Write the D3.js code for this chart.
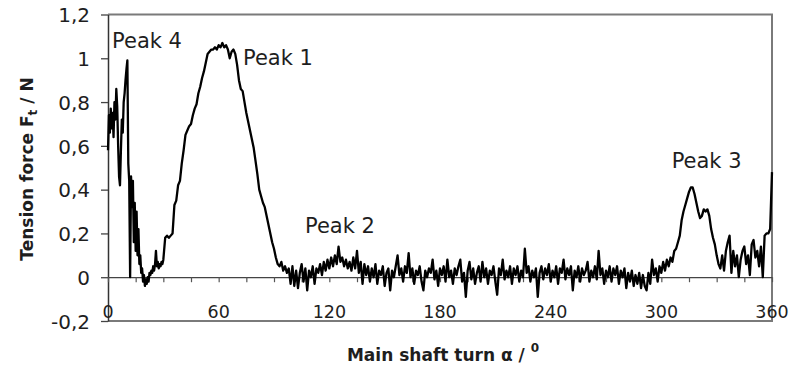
<!DOCTYPE html>
<html><head><meta charset="utf-8">
<script src="https://cdn.jsdelivr.net/npm/d3@7/dist/d3.min.js"></script>
<style>body{margin:0;background:#fff}svg{display:block}</style>
</head><body>
<svg id="chart" width="791" height="369"></svg>
<script>
// Main shaft turn (degrees)
const angles = [
0,0.5,1,1.5,2,2.5,3,3.5,4,4.5,5,5.5,6,6.5,7,7.5,8,8.5,9,9.5,
10,10.5,11,11.5,12,12.5,13,13.5,14,14.5,15,15.5,16,16.5,17,17.5,18,18.5,19,19.5,
20,20.5,21,21.5,22,22.5,23,23.5,24,24.5,25,25.5,26,26.5,27,27.5,28,28.5,29,29.5,30,
31,32,33,34,35,36,37,38,39,40,41,42,43,44,45,46,47,48,49,50,
51,52,53,54,55,56,57,58,59,60,61,62,63,64,65,66,67,68,69,70,
71,72,73,74,75,76,77,78,79,80,81,82,83,84,85,86,87,88,89,90,
91,92,93,94,95,96,97,98,99,100,101,102,103,104,105,106,107,108,109,110,
111,112,113,114,115,116,117,118,119,120,121,122,123,124,125,126,127,128,129,130,
131,132,133,134,135,136,137,138,139,140,141,142,143,144,145,146,147,148,149,150,
151,152,153,154,155,156,157,158,159,160,161,162,163,164,165,166,167,168,169,170,
171,172,173,174,175,176,177,178,179,180,181,182,183,184,185,186,187,188,189,190,
191,192,193,194,195,196,197,198,199,200,201,202,203,204,205,206,207,208,209,210,
211,212,213,214,215,216,217,218,219,220,221,222,223,224,225,226,227,228,229,230,
231,232,233,234,235,236,237,238,239,240,241,242,243,244,245,246,247,248,249,250,
251,252,253,254,255,256,257,258,259,260,261,262,263,264,265,266,267,268,269,270,
271,272,273,274,275,276,277,278,279,280,281,282,283,284,285,286,287,288,289,290,
291,292,293,294,295,296,297,298,299,300,301,302,303,304,305,306,307,308,309,310,
311,312,313,314,315,316,317,318,319,320,321,322,323,324,325,326,327,328,329,330,
331,332,333,334,335,336,337,338,339,340,341,342,343,344,345,346,347,348,349,350,
351,352,353,354,355,356,357,358,359,360
];
// Tension force Ft (N)
const tension = [
0.58,0.74,0.66,0.77,0.68,0.75,0.64,0.80,0.72,0.86,
0.78,0.60,0.46,0.42,0.58,0.72,0.66,0.80,0.84,0.90,
0.95,0.99,0.52,0.44,0.00,0.46,0.32,0.44,0.16,0.34,
0.12,0.30,0.10,0.22,0.06,0.10,0.02,0.04,-0.02,0.01,
-0.04,-0.01,-0.03,0.00,-0.02,0.02,0.01,0.03,0.02,0.05,
0.03,0.06,0.12,0.05,0.07,0.04,0.06,0.05,0.07,0.06,
0.08,
0.18,0.19,0.18,0.19,0.20,0.33,0.35,0.42,0.44,0.52,
0.58,0.65,0.67,0.69,0.70,0.74,0.77,0.79,0.84,0.87,
0.91,0.94,0.98,1.02,1.03,1.04,1.04,1.05,1.04,1.06,
1.05,1.07,1.05,1.06,1.04,1.00,1.03,1.04,1.02,0.97,
0.90,0.86,0.85,0.80,0.75,0.71,0.67,0.63,0.59,0.53,
0.47,0.40,0.37,0.34,0.32,0.28,0.24,0.20,0.16,0.13,
0.09,0.06,0.05,0.07,0.03,0.05,0.02,0.04,-0.03,0.05,
-0.04,0.03,-0.05,0.02,0.06,-0.02,0.04,-0.06,0.03,0.00,
0.05,-0.03,0.04,0.02,0.06,0.01,0.07,0.03,0.08,0.04,
0.09,0.05,0.10,0.06,0.14,0.07,0.09,0.05,0.08,0.04,
0.07,0.03,0.09,0.04,0.12,0.02,0.07,-0.03,0.06,0.01,
0.05,-0.02,0.04,0.00,0.06,-0.03,0.03,0.01,0.05,-0.04,
0.02,0.04,-0.06,0.03,0.00,0.05,0.10,0.01,0.04,-0.02,
0.05,0.02,0.11,0.00,0.04,-0.03,0.03,0.01,0.05,-0.02,
-0.06,0.03,0.00,0.04,0.02,0.08,-0.01,0.03,-0.04,0.04,
0.01,0.05,-0.02,0.08,0.00,0.03,-0.03,0.04,0.01,0.05,
0.08,-0.02,0.02,-0.09,0.03,0.07,-0.01,0.04,-0.03,0.02,
0.05,-0.02,0.07,0.00,0.04,-0.03,0.03,0.01,0.05,-0.02,
-0.08,0.04,0.01,0.08,-0.01,0.03,0.00,0.05,-0.03,0.04,
0.01,0.05,-0.02,0.03,0.00,0.13,0.02,0.05,-0.02,0.03,
0.00,0.04,-0.09,0.02,0.05,-0.01,0.04,0.01,0.06,-0.02,
0.03,0.00,0.05,-0.03,0.04,0.02,0.08,-0.01,0.04,0.01,
0.05,-0.06,0.03,0.00,0.05,-0.02,0.04,0.01,0.03,0.07,
-0.02,0.03,0.00,0.05,-0.01,0.12,0.01,0.04,-0.03,0.03,
0.00,0.05,-0.02,0.04,0.01,0.05,-0.03,0.03,0.00,0.04,
-0.05,0.02,-0.02,0.03,-0.04,0.01,-0.03,0.02,-0.05,0.01,
-0.04,-0.06,0.02,-0.03,0.08,0.01,0.04,-0.02,0.05,0.02,
0.07,0.03,0.08,0.05,0.09,0.07,0.12,0.13,0.16,0.19,
0.26,0.30,0.33,0.36,0.39,0.41,0.41,0.38,0.34,0.30,
0.27,0.28,0.31,0.30,0.31,0.28,0.22,0.18,0.15,0.10,
0.06,0.04,0.10,0.03,0.12,0.16,0.19,0.02,0.12,0.05,
0.10,0.00,0.08,0.12,0.14,0.06,0.10,0.01,0.15,0.17,
0.09,0.12,0.05,0.14,0.00,0.19,0.20,0.20,0.22,0.48
];
const xTickValues = [0,60,120,180,240,300,360];
const xMinorTicks = [0,15,30,45,60,75,90,105,120,135,150,165,180,195,210,225,240,255,270,285,300,315,330,345,360];
const yTickValues = [-0.2,0,0.2,0.4,0.6,0.8,1,1.2];
const yTickLabels = ["-0,2","0","0,2","0,4","0,6","0,8","1","1,2"];
const peakNames = ["Peak 4","Peak 1","Peak 2","Peak 3"];
const peakAngles = [2.2, 73.2, 106.8, 305.6];
const peakValues = [1.047, 0.969, 0.202, 0.499];

const svg = d3.select("#chart");
const L = 108, R = 772, T = 14.5, B = 321;
const x = d3.scaleLinear().domain([0,360]).range([L,R]);
const y = d3.scaleLinear().domain([-0.2,1.2]).range([B,T]);
const FONT = "'DejaVu Sans', Verdana, sans-serif";
const TXT = "#1e1e1e";

// frame
svg.append("path")
  .attr("d", `M${L},${T}H${R}V${B}H${L}`)
  .attr("fill","none").attr("stroke","#7a7a7a").attr("stroke-width",2);

// y axis
const ya = svg.append("g").attr("transform",`translate(${L},0)`)
  .call(d3.axisLeft(y).tickValues(yTickValues).tickFormat((d,i)=>yTickLabels[i]).tickSize(7).tickSizeOuter(0).tickPadding(11));
ya.select(".domain").attr("stroke","#333").attr("stroke-width",1.5);
ya.selectAll(".tick line").attr("stroke","#444").attr("stroke-width",1.3);
ya.selectAll("text").attr("font-family",FONT).attr("font-size",20).attr("fill",TXT).attr("dy","0.36em");

// zero axis with minor ticks
const xa = svg.append("g").attr("transform",`translate(0,${y(0)})`)
  .call(d3.axisBottom(x).tickValues(xMinorTicks).tickSize(5).tickSizeOuter(0).tickFormat(""));
xa.select(".domain").attr("stroke","#444").attr("stroke-width",1.3);
xa.selectAll(".tick line").attr("stroke","#555").attr("stroke-width",1.2);

// x tick labels
svg.append("g").selectAll("text").data(xTickValues).join("text")
  .attr("x", d=>x(d)).attr("y", 318)
  .attr("text-anchor","middle").attr("font-family",FONT).attr("font-size",17.5).attr("fill",TXT)
  .text(d=>d);

// data line
const line = d3.line().x((d,i)=>x(angles[i])).y(d=>y(d));
svg.append("path").datum(tension)
  .attr("d", line).attr("fill","none").attr("stroke","#000").attr("stroke-width",2.3)
  .attr("stroke-linejoin","round");

// peak labels
svg.append("g").selectAll("text").data(peakNames).join("text")
  .attr("x",(d,i)=>x(peakAngles[i])).attr("y",(d,i)=>y(peakValues[i]))
  .attr("font-family",FONT).attr("font-size",21).attr("fill",TXT)
  .text(d=>d);

// axis titles
const yt = svg.append("text").attr("transform","translate(33,169) rotate(-90)")
  .attr("text-anchor","middle").attr("font-family",FONT).attr("font-weight","bold")
  .attr("font-size",17).attr("fill",TXT);
yt.append("tspan").text("Tension force F");
yt.append("tspan").attr("font-size",12).attr("dy",4).text("t");
yt.append("tspan").attr("dy",-4).text(" / N");

const xt = svg.append("text").attr("x",443).attr("y",361)
  .attr("text-anchor","middle").attr("font-family",FONT).attr("font-weight","bold")
  .attr("font-size",17).attr("fill",TXT);
xt.append("tspan").text("Main shaft turn α / ");
xt.append("tspan").attr("font-size",12).attr("dy",-9).text("0");
</script>
</body></html>
